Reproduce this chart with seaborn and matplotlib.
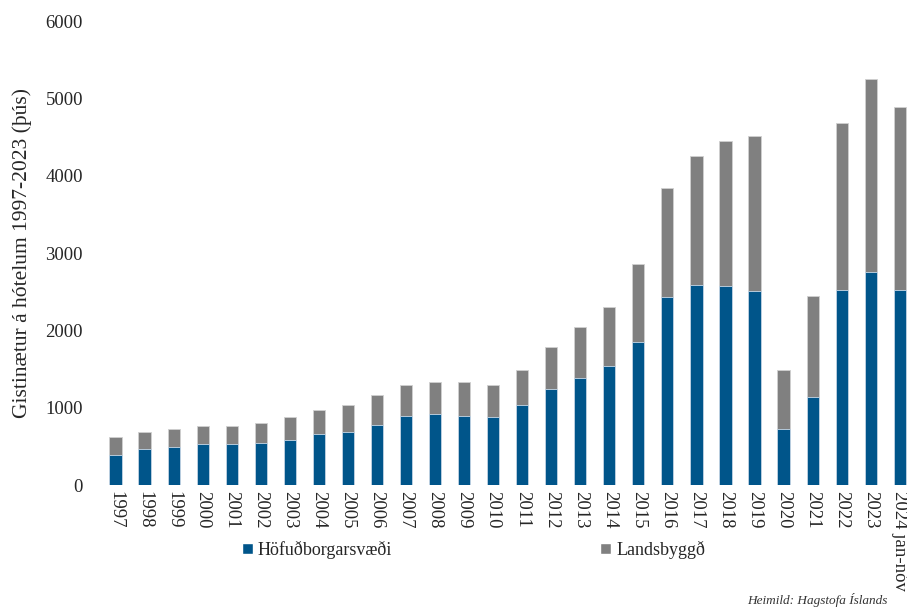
import matplotlib
matplotlib.use('Agg')
import matplotlib.pyplot as plt
from matplotlib.patches import Patch
import pandas as pd
import seaborn as sns

sns.set_style("white")
plt.rcParams['font.family'] = ['Liberation Serif', 'DejaVu Serif']

# gistinætur á hótelum, þúsundir
years = ['1997', '1998', '1999', '2000', '2001', '2002', '2003', '2004', '2005', '2006',
         '2007', '2008', '2009', '2010', '2011', '2012', '2013', '2014', '2015', '2016',
         '2017', '2018', '2019', '2020', '2021', '2022', '2023', '2024 jan-nóv']
hofudborgarsvaedi = [392, 466, 496, 534, 536, 547, 586, 655, 690, 780,
                     896, 914, 896, 884, 1035, 1246, 1384, 1539, 1853, 2435,
                     2590, 2577, 2513, 724, 1142, 2526, 2750, 2526]
landsbyggd = [224, 224, 228, 225, 223, 251, 298, 315, 349, 380,
              401, 418, 436, 413, 452, 535, 655, 763, 1005, 1410,
              1668, 1875, 2004, 763, 1298, 2151, 2496, 2358]

blue = '#00558a'
grey = '#808080'

df = pd.DataFrame({'year': years, 'hofud': hofudborgarsvaedi, 'lands': landsbyggd})
df['total'] = df['hofud'] + df['lands']

fig = plt.figure(figsize=(9.07, 6.09), dpi=100)
ax = fig.add_axes([101 / 907, 124 / 609, 806 / 907, 464 / 609])

# stacked: draw totals in grey, then the capital region on top in blue
sns.barplot(data=df, x='year', y='total', color=grey, width=0.42, saturation=1,
            edgecolor='#d0d0d0', linewidth=0.6, ax=ax)
sns.barplot(data=df, x='year', y='hofud', color=blue, width=0.42, saturation=1,
            edgecolor='#c8d8e8', linewidth=0.6, ax=ax)

ax.set_xlim(-0.5, 27.25)
ax.set_ylim(0, 6000)
ax.set_yticks(range(0, 6001, 1000))
sns.despine(ax=ax, left=True, bottom=True)
ax.set_xlabel('')
ax.set_ylabel('Gistinætur á hótelum 1997-2023 (þús)', fontsize=15.5, labelpad=10)
ax.tick_params(axis='y', length=0, pad=13, labelsize=13.5)
ax.tick_params(axis='x', length=0, pad=4, labelsize=13.5)
plt.setp(ax.get_xticklabels(), rotation=270, va='top', ha='center')

handles = [Patch(facecolor=blue, label='Höfuðborgarsvæði'),
           Patch(facecolor=grey, label='Landsbyggð')]
fig.legend(handles=handles, loc='center', bbox_to_anchor=(0.522, 0.097), ncol=2,
           frameon=False, fontsize=13, handlelength=0.6, handleheight=0.6,
           handletextpad=0.3, columnspacing=11.5)

fig.text(0.979, 0.004, 'Heimild: Hagstofa Íslands', ha='right', va='bottom',
         fontsize=9.5, style='italic', color='#333333')

fig.savefig('out.png', dpi=100)
